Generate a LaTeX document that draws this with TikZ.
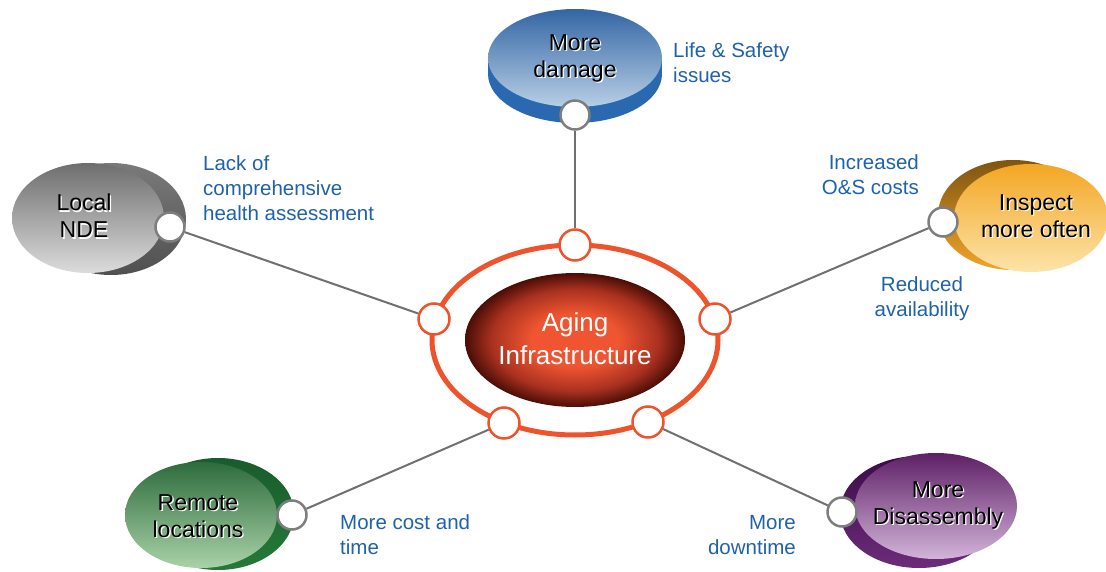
\documentclass[tikz,border=0pt]{standalone}
\usepackage{fontspec}
\setmainfont{Liberation Sans}
\usetikzlibrary{shapes.geometric}
\definecolor{lblue}{HTML}{1F62AA}
\definecolor{ringc}{HTML}{EE532B}
\definecolor{linec}{HTML}{707070}
\definecolor{corein}{HTML}{EE5530}
\definecolor{coremid}{HTML}{A93120}
\definecolor{coreout}{HTML}{4A0D06}
\definecolor{dmgtop}{HTML}{3366A4}
\definecolor{dmgbot}{HTML}{B8CFE6}
\definecolor{dmgside}{HTML}{2A69B0}
\definecolor{graytop}{HTML}{6E6E6E}
\definecolor{graybot}{HTML}{DCDCDC}
\definecolor{grayback}{HTML}{7A7A7A}
\definecolor{grayback2}{HTML}{505050}
\definecolor{orgtop}{HTML}{F4A623}
\definecolor{orgbot}{HTML}{FCE4AA}
\definecolor{orgback}{HTML}{7E5511}
\definecolor{orgback2}{HTML}{F2A52A}
\definecolor{grntop}{HTML}{2E6C3D}
\definecolor{grnbot}{HTML}{A9D2A8}
\definecolor{grnback}{HTML}{195C2C}
\definecolor{grnback2}{HTML}{267A3A}
\definecolor{purtop}{HTML}{5E1F66}
\definecolor{purbot}{HTML}{D2B4D9}
\definecolor{purback}{HTML}{3C0C47}
\definecolor{purback2}{HTML}{6C2C7A}
\pgfdeclareradialshading{agingshade}{\pgfpoint{0bp}{0bp}}{color(0bp)=(corein); color(10bp)=(corein); color(19bp)=(coremid); color(25bp)=(coreout); color(50bp)=(coreout)}
\tikzset{
  bubble/.style args={#1/#2}{ellipse, inner sep=0pt, outer sep=0pt, minimum width=#1pt, minimum height=#2pt},
  gcirc/.style={circle, draw=linec!90, fill=white, line width=2.5pt, minimum size=29pt, inner sep=0pt},
  ocirc/.style={circle, draw=ringc, fill=white, line width=2.5pt, minimum size=31pt, inner sep=0pt},
  conn/.style={draw=linec, line width=2pt},
  bigtxt/.style={align=center, inner sep=0pt, font=\fontsize{23}{27}\selectfont},
  lbl/.style={text=lblue, inner sep=0pt, font=\fontsize{20.5}{25}\selectfont},
}
\newcommand{\shadowtext}[3]{%
  \node[bigtxt, text=white] (#1s) at ([shift={(1.3,1.3)}]#2) {#3};
  \node[bigtxt, text=black] (#1) at (#2) {#3};}
\begin{document}
\begin{tikzpicture}[x=1pt,y=-1pt]
\useasboundingbox (0,0) rectangle (1106,572);
% ring and core
\node[bubble=286/190, draw=ringc, line width=5pt] (ring) at (575,340) {};
\node[bubble=220/134, shading=agingshade] (core) at (575,340) {};
\node[align=center, inner sep=0pt, text=white, font=\fontsize{26}{33}\selectfont] (coretxt) at (575,339) {Aging\\Infrastructure};
% top disk
\fill[dmgside] (488,58) rectangle (662,74);
\node[bubble=174/98, fill=dmgside] (dmgB) at (575,74) {};
\node[bubble=174/98, top color=dmgtop, bottom color=dmgbot] (dmg) at (575,58) {};
\shadowtext{dmgt}{575,58}{More\\damage}
% Local NDE
\node[bubble=150/112, top color=grayback, bottom color=grayback2] (ndeB) at (111,219) {};
\node[bubble=152/110, top color=graytop, bottom color=graybot] (nde) at (88,218) {};
\shadowtext{ndet}{84,216}{Local\\NDE}
% Inspect more often
\node[bubble=150/110, top color=orgback, bottom color=orgback2] (insB) at (1013,215) {};
\node[bubble=154/108, top color=orgtop, bottom color=orgbot] (ins) at (1031,218) {};
\shadowtext{inst}{1036,216}{Inspect\\more often}
% Remote locations
\node[bubble=152/112, top color=grnback, bottom color=grnback2] (remB) at (218,514) {};
\node[bubble=152/106, top color=grntop, bottom color=grnbot] (rem) at (201,515) {};
\shadowtext{remt}{198,516}{Remote\\locations}
% More Disassembly
\node[bubble=158/112, top color=purback, bottom color=purback2] (disB) at (919,512) {};
\node[bubble=162/106, top color=purtop, bottom color=purbot] (dis) at (936,506) {};
\shadowtext{dist}{938,505}{More\\Disassembly}
% connector circles
\node[gcirc] (gTop) at (575,115) {};
\node[gcirc] (gNde) at (170,227) {};
\node[gcirc] (gIns) at (943,222) {};
\node[gcirc] (gRem) at (292,515) {};
\node[gcirc] (gDis) at (842,512) {};
\node[ocirc] (oTop) at (575,245) {};
\node[ocirc] (oL) at (434,319) {};
\node[ocirc] (oR) at (715,319) {};
\node[ocirc] (oBL) at (504,423) {};
\node[ocirc] (oBR) at (648,422) {};
% connectors
\draw[conn] (gTop) -- (oTop);
\draw[conn] (gNde) -- (oL);
\draw[conn] (gIns) -- (oR);
\draw[conn] (gRem) -- (oBL);
\draw[conn] (gDis) -- (oBR);
% labels
\node[lbl, anchor=west, align=left] (l1) at (673,63) {Life \& Safety\\issues};
\node[lbl, anchor=west, align=left] (l2) at (203,188) {Lack of\\comprehensive\\health assessment};
\node[lbl, anchor=east, align=right] (l3) at (919,175) {Increased\\O\&S costs};
\node[lbl, align=center] (l4) at (922,299) {Reduced\\availability};
\node[lbl, anchor=west, align=left] (l5) at (340,535) {More cost and\\time};
\node[lbl, anchor=east, align=right] (l6) at (796,535) {More\\downtime};
\end{tikzpicture}
\end{document}
